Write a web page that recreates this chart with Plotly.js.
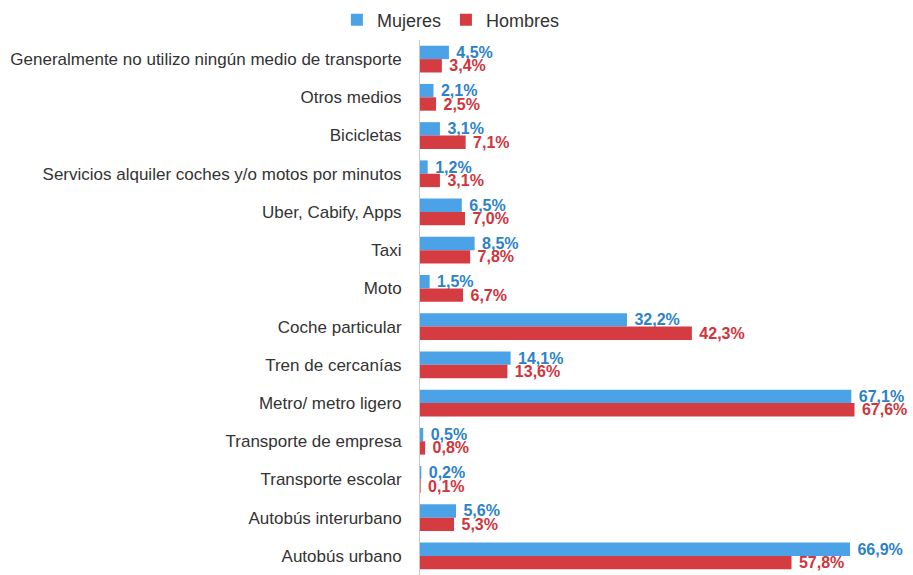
<!DOCTYPE html>
<html>
<head>
<meta charset="utf-8">
<script src="https://cdn.plot.ly/plotly-3.0.1.min.js"></script>
<style>
  body { margin: 0; background: #fff; }
  #chart { width: 913px; height: 575px; }
</style>
</head>
<body>
<div id="chart"></div>
<script>
var categorias = [
  "Generalmente no utilizo ningún medio de transporte",
  "Otros medios",
  "Bicicletas",
  "Servicios alquiler coches y/o motos por minutos",
  "Uber, Cabify, Apps",
  "Taxi",
  "Moto",
  "Coche particular",
  "Tren de cercanías",
  "Metro/ metro ligero",
  "Transporte de empresa",
  "Transporte escolar",
  "Autobús interurbano",
  "Autobús urbano"
];
var mujeres = [4.5, 2.1, 3.1, 1.2, 6.5, 8.5, 1.5, 32.2, 14.1, 67.1, 0.5, 0.2, 5.6, 66.9];
var hombres = [3.4, 2.5, 7.1, 3.1, 7.0, 7.8, 6.7, 42.3, 13.6, 67.6, 0.8, 0.1, 5.3, 57.8];

function etiqueta(v) {
  return "\u00a0" + v.toFixed(1).replace(".", ",") + "%";
}

var fuente = "Liberation Sans Narrow, Arial Narrow, Liberation Sans, sans-serif";

var trazaM = {
  type: "bar", orientation: "h", name: "Mujeres",
  y: categorias, x: mujeres,
  text: mujeres.map(etiqueta),
  textposition: "outside", constraintext: "none", cliponaxis: false,
  textfont: { family: fuente, size: 16, color: "#2b82c9", weight: "bold" },
  marker: { color: "#4ca2e6", line: { width: 0 } },
  hoverinfo: "skip"
};
var trazaH = {
  type: "bar", orientation: "h", name: "Hombres",
  y: categorias, x: hombres,
  text: hombres.map(etiqueta),
  textposition: "outside", constraintext: "none", cliponaxis: false,
  textfont: { family: fuente, size: 16, color: "#d0343c", weight: "bold" },
  marker: { color: "#d43c42", line: { width: 0 } },
  hoverinfo: "skip"
};

var layout = {
  width: 913, height: 575,
  margin: { l: 420, r: 0, t: 40, b: 0 },
  paper_bgcolor: "#ffffff", plot_bgcolor: "#ffffff",
  barmode: "group", bargap: 0.3, bargroupgap: 0,
  font: { family: fuente, size: 17, color: "#333333" },
  showlegend: true,
  legend: {
    orientation: "h", xref: "container", yref: "container",
    x: 0.369, y: 0.965, xanchor: "left", yanchor: "middle",
    font: { family: fuente, size: 18, color: "#333333" },
    itemwidth: 30, traceorder: "normal"
  },
  xaxis: {
    range: [0, 76.7], showgrid: false, zeroline: false,
    showticklabels: false, showline: false, fixedrange: true
  },
  yaxis: {
    type: "category", autorange: "reversed",
    showline: true, linecolor: "#c8c8c8", linewidth: 1,
    showgrid: false, ticks: "", ticklabelstandoff: 14,
    tickfont: { family: fuente, size: 17, color: "#333333" }
  }
};

Plotly.newPlot("chart", [trazaM, trazaH], layout, { staticPlot: true });
</script>
</body>
</html>
